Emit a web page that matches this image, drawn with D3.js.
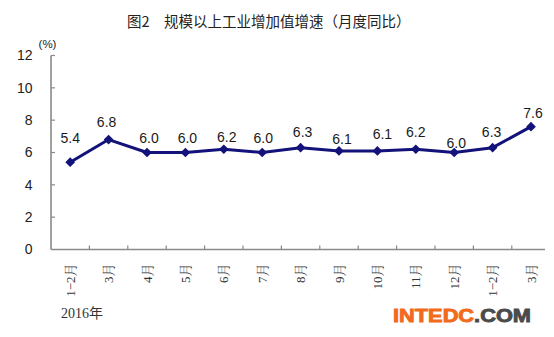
<!DOCTYPE html>
<html><head><meta charset="utf-8">
<script src="https://cdn.jsdelivr.net/npm/d3@7"></script>
<style>html,body{margin:0;padding:0;background:#fff;}svg{display:block;}</style>
</head><body>
<svg id="c" width="554" height="337"></svg>
<script>
const categories = ["1\u22122月","3月","4月","5月","6月","7月","8月","9月","10月","11月","12月","1\u22122月","3月"];
const values = [5.4,6.8,6.0,6.0,6.2,6.0,6.3,6.1,6.1,6.2,6.0,6.3,7.6];
const valueLabels = ["5.4","6.8","6.0","6.0","6.2","6.0","6.3","6.1","6.1","6.2","6.0","6.3","7.6"];
const yTicks = [0,2,4,6,8,10,12];
const labelDx = [0,-2,2,2,3,1,2,3,5,0,2,-1,2];
const labelDy = [-19,-13,-10,-10,-7,-10,-11,-7,-12,-12,-5,-11,-9];

const svg = d3.select("#c");
const mLeft = 51, mRight = 550.2, mTop = 55.5, mBottom = 249.5;
const x = d3.scaleBand().domain(d3.range(categories.length)).range([mLeft, mRight]).paddingInner(0).paddingOuter(0);
const y = d3.scaleLinear().domain([0,12]).range([mBottom, mTop]);
const axisColor = "#8a8a8a";

// title
svg.append("text").attr("x",127).attr("y",27)
  .attr("font-family","'Noto Sans CJK SC', sans-serif").attr("font-size",14.5).attr("fill","#222")
  .text("图2\u3000规模以上工业增加值增速（月度同比）");

// unit
svg.append("text").attr("x",47.5).attr("y",48).attr("text-anchor","middle")
  .attr("font-family","'Liberation Sans', Arial, sans-serif").attr("font-size",11.5).attr("fill","#222").text("(%)");

// y axis
const yAxis = d3.axisLeft(y).tickValues(yTicks).tickSize(0).tickPadding(18.5).tickFormat(d3.format("d"));
const gy = svg.append("g").attr("transform",`translate(${mLeft},0)`).call(yAxis);
gy.select(".domain").remove();
gy.selectAll("text").attr("font-family","'Liberation Sans', Arial, sans-serif").attr("font-size",14).attr("fill","#222");
svg.append("line").attr("x1",mLeft).attr("x2",mLeft).attr("y1",y(12)).attr("y2",mBottom)
  .attr("stroke",axisColor).attr("stroke-width",1.6);
svg.selectAll(".ytick").data(yTicks.filter(d=>d>0)).join("line").attr("class","ytick")
  .attr("x1",mLeft).attr("x2",mLeft+4).attr("y1",d=>y(d)).attr("y2",d=>y(d))
  .attr("stroke",axisColor).attr("stroke-width",1.2);

// x axis
svg.append("line").attr("x1",mLeft).attr("x2",545).attr("y1",mBottom).attr("y2",mBottom)
  .attr("stroke",axisColor).attr("stroke-width",1.6);
svg.selectAll(".xtick").data(d3.range(1,categories.length)).join("line").attr("class","xtick")
  .attr("x1",d=>x(d)).attr("x2",d=>x(d)).attr("y1",mBottom).attr("y2",mBottom-4)
  .attr("stroke",axisColor).attr("stroke-width",1.2);
const xAxis = d3.axisBottom(x).tickSize(0).tickFormat(i=>categories[i]);
const gx = svg.append("g").attr("transform",`translate(0,${mBottom})`).call(xAxis);
gx.select(".domain").remove();
gx.selectAll("text")
  .attr("font-family","'Liberation Serif', 'Noto Serif CJK SC', 'Noto Sans CJK SC', serif").attr("font-size",13).attr("fill","#333")
  .attr("text-anchor","end").attr("transform","rotate(-90)")
  .attr("x",-14).attr("y",0).attr("dy","0.35em");

svg.append("text").attr("x",61).attr("y",318)
  .attr("font-family","'Liberation Serif', 'Noto Sans CJK SC', serif").attr("font-size",14).attr("fill","#333").text("2016年");

// line
const cx = i => x(i) + x.bandwidth()/2;
const lineColor = "#12127a";
svg.append("path").datum(values)
  .attr("d", d3.line().x((d,i)=>cx(i)).y(d=>y(d)))
  .attr("fill","none").attr("stroke",lineColor).attr("stroke-width",3).attr("stroke-linejoin","round");
svg.selectAll(".mk").data(values).join("path").attr("class","mk")
  .attr("transform",(d,i)=>`translate(${cx(i)},${y(d)})`)
  .attr("d", d3.symbol(d3.symbolDiamond2, 60)())
  .attr("fill",lineColor);

// value labels
svg.selectAll(".vl").data(values).join("text").attr("class","vl")
  .attr("x",(d,i)=>cx(i)+labelDx[i]).attr("y",(d,i)=>y(d)+labelDy[i])
  .attr("text-anchor","middle")
  .attr("font-family","'Liberation Sans', Arial, sans-serif").attr("font-size",14).attr("fill","#1a1a1a")
  .text((d,i)=>valueLabels[i]);

// watermark
const wm = svg.append("text").attr("x",393).attr("y",321.5)
  .attr("font-family","'Liberation Sans', Arial, sans-serif").attr("font-weight","bold").attr("font-size",19)
  .attr("textLength",138).attr("lengthAdjust","spacingAndGlyphs").attr("stroke-width",0.9);
wm.append("tspan").attr("fill","#f26a1b").attr("stroke","#f26a1b").text("INTEDC");
wm.append("tspan").attr("fill","#4a4a4a").attr("stroke","#4a4a4a").text(".COM");
</script>
</body></html>
